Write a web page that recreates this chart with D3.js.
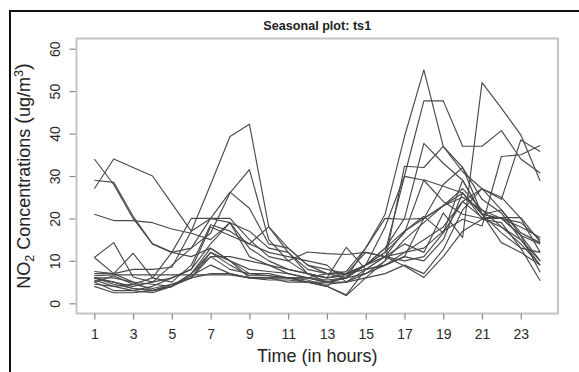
<!DOCTYPE html>
<html>
<head>
<meta charset="utf-8">
<script src="https://cdn.jsdelivr.net/npm/d3@7"></script>
<style>
  body { margin: 0; background: #fff; }
  svg { display: block; }
  text { font-family: "Liberation Sans", Arial, Helvetica, sans-serif; }
</style>
</head>
<body>
<svg id="chart" width="579" height="372"></svg>
<script>
// Hour of day (1..24) and axis tick values
const hours = d3.range(1, 25);
const xTickValues = [1, 3, 5, 7, 9, 11, 13, 15, 17, 19, 21, 23];
const yTickValues = [0, 10, 20, 30, 40, 50, 60];

// Hourly NO2 concentrations (ug/m3), one array per day
const day01 = [27, 34, 32, 30, 23.5, 17, 28, 39.3, 42.2, 18, 13, 9, 8, 7, 8, 11, 17, 20, 23, 27, 22, 18, 14, 9];
const day02 = [34, 28, 20, 14, 12, 11, 13, 10, 8, 7.5, 7, 6, 5.5, 6, 9, 12, 16.6, 29.1, 27.6, 26, 21, 20, 16, 7.3];
const day03 = [29, 28.5, 20.5, 14, 12, 13, 20, 26.2, 22.4, 14, 13, 9, 7, 6, 9, 13, 20, 37.7, 33, 29, 21, 20, 16, 14];
const day04 = [21, 19.5, 19.5, 19, 17.5, 16.5, 15, 19, 13, 10, 8, 7, 6, 6.5, 9, 18, 30, 47.7, 47.7, 37, 37, 40.7, 34, 30.7];
const day05 = [10.8, 14.3, 6.2, 5, 6, 8, 14, 19, 11, 9, 7, 6, 5, 6, 13, 21, 39.3, 55, 37, 32, 24.5, 21.3, 15, 10];
const day06 = [7, 7, 5, 3, 4, 7, 13, 10, 7, 6.5, 6, 6, 5, 6, 9, 13, 17, 20.5, 16.6, 29, 21, 16.6, 13, 12];
const day07 = [6, 5, 3.5, 3, 4, 7, 12, 9, 6.5, 6.5, 6, 5, 4.5, 5, 8, 11, 14, 12, 21.3, 15.5, 52, 46, 39.7, 28.8];
const day08 = [6, 4.5, 3.5, 3, 4.5, 6, 11, 11, 10, 9, 8, 7, 6, 7, 9, 11, 12, 13, 17, 19.8, 18.2, 34.6, 35, 37.2];
const day09 = [5, 3, 3, 4, 6, 8, 18, 16, 14, 12, 11, 10, 9, 5, 6, 7, 9, 7, 12.7, 22, 27, 24.5, 38.5, 35.8];
const day10 = [4, 2.5, 2.5, 3, 4, 6.5, 9, 7, 6, 6, 6, 5, 4, 2, 8, 9, 11, 10, 15, 26, 21, 22, 16.6, 14.3];
const day11 = [7.5, 7, 8, 8, 8.5, 17, 20, 20, 15, 11, 10, 12.1, 11.7, 11.5, 12, 11, 10, 11, 16.6, 24, 27, 25, 20, 12];
const day12 = [6, 5, 4, 5, 9, 13, 16.5, 26, 31.5, 15, 10, 7, 6, 13.2, 8, 9, 11, 20, 23, 26, 20, 18, 15, 9];
const day13 = [5, 6.5, 4.5, 3.5, 4.5, 6, 7, 7, 6, 6, 5, 5, 4, 1.8, 6, 10, 15, 19, 23, 25, 22, 20, 18, 15.5];
const day14 = [6.5, 6.7, 6.7, 6.7, 6.7, 6.7, 6.7, 6.7, 6, 5.5, 5.5, 5, 5, 6, 7, 9, 12, 15, 18, 24, 20.2, 20.2, 20.2, 14.5];
const day15 = [5.5, 4, 4.5, 6, 12, 20, 20, 19, 17, 13, 12, 8, 7, 7, 9, 12, 29.9, 29, 24, 21, 20, 20, 19, 15];
const day16 = [10.8, 7, 11.8, 6, 5, 9, 18.5, 17, 14, 18, 12, 7, 5, 5, 7, 10, 32.3, 32, 37, 31, 27, 22, 16, 10];
const day17 = [4.5, 4, 3, 2.5, 4, 7, 11, 8, 7, 7, 6, 5.5, 4, 7, 12, 11, 8.8, 6.1, 11, 17, 19.8, 19, 13, 5.3];
const day18 = [6, 6, 5, 4.5, 4, 6, 12, 10, 6, 6, 6, 6, 7, 7.5, 13, 20, 19.8, 20, 28, 32, 21, 14.3, 12, 9];

const days = [day01, day02, day03, day04, day05, day06, day07, day08, day09,
              day10, day11, day12, day13, day14, day15, day16, day17, day18];

const svg = d3.select("#chart");

// Outer frame (top and left edges visible)
svg.append("path")
  .attr("d", "M10,372V11H579")
  .attr("fill", "none")
  .attr("stroke", "#111")
  .attr("stroke-width", 2);

// Scales with 4% padding around the data range
const x = d3.scaleLinear().domain([0.08, 24.92]).range([76.5, 558]);
const y = d3.scaleLinear().domain([-2.4, 62.4]).range([313.5, 38.5]);

// Seasonal lines
const line = d3.line()
  .x((d, i) => x(hours[i]))
  .y(d => y(d));

svg.append("g")
  .selectAll("path")
  .data(days)
  .join("path")
  .attr("d", line)
  .attr("fill", "none")
  .attr("stroke", "#4a4a4a")
  .attr("stroke-width", 1.15)
  .attr("stroke-linejoin", "round");

// Plot box
svg.append("rect")
  .attr("x", x.range()[0])
  .attr("y", y.range()[1])
  .attr("width", x.range()[1] - x.range()[0])
  .attr("height", y.range()[0] - y.range()[1])
  .attr("fill", "none")
  .attr("stroke", "#c4c4c4")
  .attr("stroke-width", 2);

// Bottom axis
const xAxis = svg.append("g")
  .attr("transform", `translate(0,${y.range()[0]})`)
  .call(d3.axisBottom(x).tickValues(xTickValues).tickSize(6).tickPadding(10).tickFormat(d3.format("d")));
xAxis.select(".domain").remove();
xAxis.selectAll(".tick line").attr("stroke", "#888").attr("stroke-width", 1.2);
xAxis.selectAll(".tick text")
  .attr("font-size", 14)
  .attr("fill", "#2a2a2a")
  .attr("font-family", "Liberation Sans, Arial, sans-serif");

// Left axis with labels parallel to the axis
const yAxis = svg.append("g")
  .attr("transform", `translate(${x.range()[0] - 1},0)`)
  .call(d3.axisLeft(y).tickValues(yTickValues).tickSize(6).tickFormat(d3.format("d")));
yAxis.select(".domain").remove();
yAxis.selectAll(".tick line").attr("stroke", "#888").attr("stroke-width", 1.2);
yAxis.selectAll(".tick text")
  .attr("x", null)
  .attr("dy", null)
  .attr("text-anchor", "middle")
  .attr("transform", "translate(-16,0) rotate(-90)")
  .attr("font-size", 14)
  .attr("fill", "#2a2a2a")
  .attr("font-family", "Liberation Sans, Arial, sans-serif");

// Title
svg.append("text")
  .attr("x", (x.range()[0] + x.range()[1]) / 2)
  .attr("y", 29.5)
  .attr("text-anchor", "middle")
  .attr("font-size", 12.6)
  .attr("font-weight", "bold")
  .attr("fill", "#222")
  .text("Seasonal plot: ts1");

// X axis title
svg.append("text")
  .attr("x", (x.range()[0] + x.range()[1]) / 2)
  .attr("y", 362)
  .attr("text-anchor", "middle")
  .attr("font-size", 18)
  .attr("fill", "#222")
  .text("Time (in hours)");

// Y axis title with subscript and superscript
const yTitle = svg.append("text")
  .attr("transform", `translate(29.5,${(y.range()[0] + y.range()[1]) / 2}) rotate(-90)`)
  .attr("text-anchor", "middle")
  .attr("font-size", 18)
  .attr("fill", "#222");
yTitle.append("tspan").text("NO");
yTitle.append("tspan").attr("font-size", 12.5).attr("dy", 4).text("2");
yTitle.append("tspan").attr("dy", -4).text(" Concentrations ");
yTitle.append("tspan").attr("font-size", 20).text("(");
yTitle.append("tspan").text("ug/m");
yTitle.append("tspan").attr("font-size", 12.5).attr("dy", -7).text("3");
yTitle.append("tspan").attr("dy", 7).attr("font-size", 20).text(")");
</script>
</body>
</html>
